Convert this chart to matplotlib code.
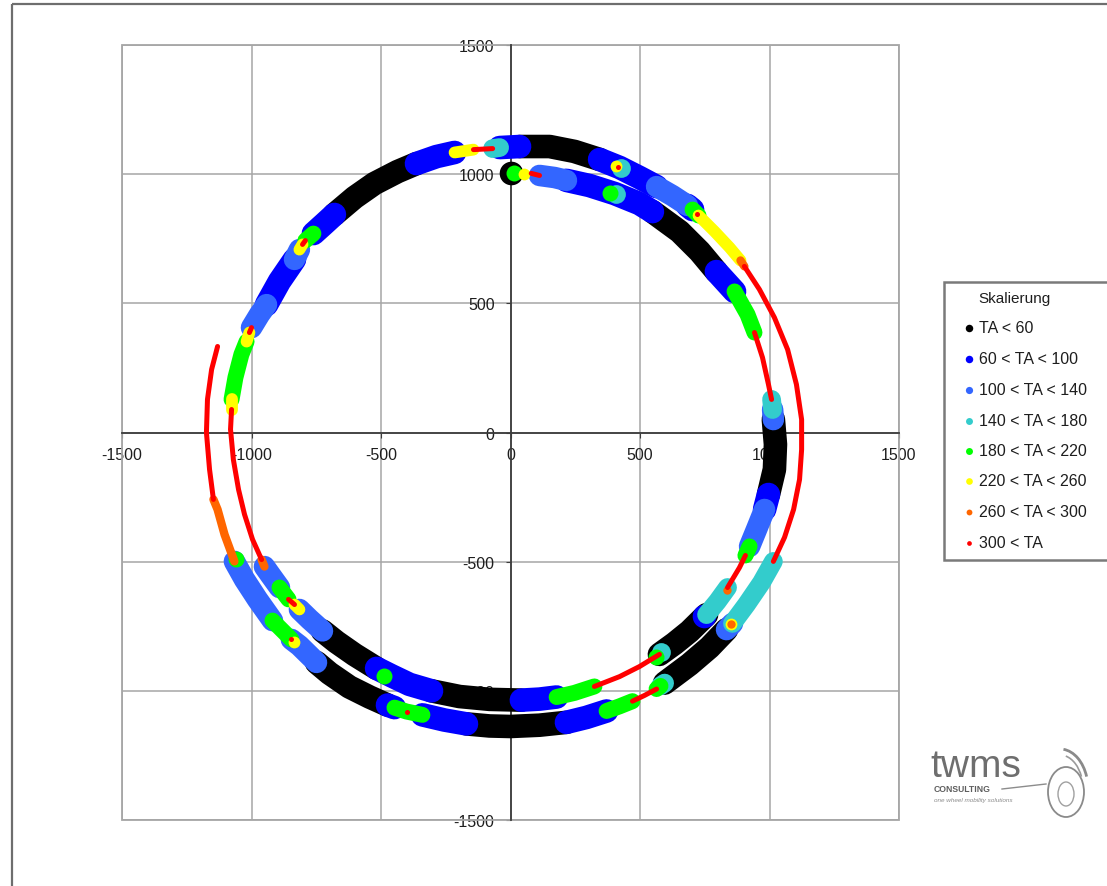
import matplotlib
matplotlib.use("Agg")
import matplotlib.pyplot as plt
from matplotlib.patches import Rectangle, Ellipse, Arc

plt.rcParams['font.family'] = ['Liberation Sans', 'DejaVu Sans']
plt.rcParams['axes.unicode_minus'] = False

# TA classes (legend "Skalierung")
ta_labels = ["TA < 60", "60 < TA < 100", "100 < TA < 140", "140 < TA < 180",
             "180 < TA < 220", "220 < TA < 260", "260 < TA < 300", "300 < TA"]
ta_colors = ["#000000", "#0000FF", "#3366FF", "#33CCCC",
             "#00FF00", "#FFFF00", "#FF6600", "#FF0000"]

# trajectory waypoints (clockwise, two laps)
path_x = [80, 112, 170, 216, 305, 402, 498, 548, 653, 730,
          795, 865, 915, 942, 973, 996, 1008, 1012, 1015, 1023,
          1019, 996, 981, 950, 923, 907, 884, 838, 799, 757,
          691, 633, 575, 498, 421, 324, 247, 178, 112, 42,
          -81, -197, -305, -390, -459, -517, -602, -672, -726, -776,
          -815, -834, -857, -892, -923, -950, -961, -996, -1027, -1050,
          -1070, -1081, -1077, -1077, -1062, -1039, -1019, -1008, -1000, -969,
          -942, -892, -834, -815, -803, -792, -761, -718, -680, -602,
          -525, -436, -363, -286, -216, -143, -69, -42, 35, 151,
          247, 344, 421, 498, 564, 625, 683, 703, 726, 788,
          846, 888, 903, 961, 1019, 1070, 1104, 1124, 1124, 1116,
          1093, 1058, 1015, 969, 911, 857, 834, 768, 691, 595,
          579, 564, 517, 471, 421, 371, 293, 216, 112, 0,
          -81, -170, -255, -340, -402, -448, -475, -544, -622, -699,
          -749, -815, -846, -919, -977, -1027, -1066, -1104, -1131, -1147,
          -1162, -1174, -1170, -1154, -1131]
path_y = [1003, 995, 987, 976, 956, 925, 886, 855, 778, 701,
          623, 546, 457, 387, 290, 186, 128, 89, 50, -46,
          -143, -240, -298, -375, -441, -476, -523, -600, -654, -705,
          -770, -817, -859, -906, -945, -983, -1008, -1024, -1032, -1036,
          -1033, -1022, -1000, -975, -942, -913, -860, -811, -768, -723,
          -685, -666, -646, -600, -557, -519, -492, -414, -317, -221,
          -105, 12, 89, 128, 213, 302, 352, 387, 406, 457,
          495, 585, 670, 708, 728, 743, 770, 809, 844, 910,
          964, 1010, 1041, 1068, 1084, 1095, 1099, 1103, 1107, 1107,
          1088, 1057, 1026, 987, 952, 917, 879, 863, 840, 778,
          716, 666, 643, 554, 445, 321, 186, 50, -66, -182,
          -298, -406, -499, -581, -666, -739, -763, -832, -898, -970,
          -981, -993, -1018, -1040, -1060, -1078, -1103, -1122, -1133, -1138,
          -1136, -1128, -1113, -1093, -1080, -1065, -1055, -1024, -985, -932,
          -890, -825, -801, -728, -646, -569, -499, -395, -298, -259,
          -143, 0, 128, 244, 333]
# TA class of the segment from waypoint i to i+1
seg_ta = [7, 2, 2, 1, 1, 1, 1, 0, 0, 0,
          1, 4, 4, 7, 7, 7, 3, 2, 0, 0,
          0, 1, 2, 2, 4, 7, 7, 3, 3, 0,
          0, 0, 7, 7, 7, 4, 4, 1, 1, 0,
          0, 0, 1, 1, 1, 0, 0, 0, 2, 2,
          5, 7, 4, 2, 2, 6, 7, 7, 7, 7,
          7, 7, 5, 4, 4, 4, 5, 7, 2, 2,
          1, 1, 2, 5, 7, 4, 1, 1, 0, 0,
          0, 0, 1, 1, 5, 7, 3, 1, 0, 0,
          0, 1, 1, 1, 2, 2, 1, 4, 5, 5,
          5, 6, 7, 7, 7, 7, 7, 7, 7, 7,
          7, 7, 3, 3, 3, 2, 0, 0, 0, 3,
          4, 7, 7, 4, 4, 1, 1, 0, 0, 0,
          0, 1, 1, 4, 4, 1, 0, 0, 0, 0,
          2, 2, 4, 2, 2, 2, 6, 6, 6, 7,
          7, 7, 7, 7]

# single spots along the path
dot_x = [0, 15, 52, 386, 409, 425, 409, 415, 722, 749, 583, 560, 834, 853, 853,
         -490, -401, -835, -846, -1058]
dot_y = [1003, 1003, 1000, 929, 925, 1022, 1030, 1026, 846, -710, -851, -868, -608, -743, -743,
         -941, -1080, -812, -801, -491]
dot_ta = [0, 4, 5, 4, 3, 3, 5, 7, 7, 1, 3, 4, 6, 5, 6,
          4, 7, 5, 7, 4]

ticks = [-1500, -1000, -500, 0, 500, 1000, 1500]

# marker sizes per class (points)
ta_width = [17.0, 17.0, 15.5, 13.5, 11.5, 8.5, 6.0, 3.6]
legend_ms = [5.4, 5.4, 5.2, 5.0, 5.0, 4.8, 4.2, 3.4]

grid_col = "#a6a6a6"
text_col = "#1e1e1e"

fig = plt.figure(figsize=(11.07, 8.87), dpi=100)
ax = fig.add_axes([122 / 1107, 1 - 821 / 887, 777 / 1107, 775 / 887])

ax.set_xlim(-1500, 1500)
ax.set_ylim(-1500, 1500)
ax.set_xticks(ticks)
ax.set_yticks(ticks)
ax.set_axisbelow(True)
ax.grid(True, color=grid_col, lw=1.1)

ax.spines['left'].set_position(('data', 0))
ax.spines['bottom'].set_position(('data', 0))
ax.spines['right'].set_visible(False)
ax.spines['top'].set_visible(False)
for s in ('left', 'bottom'):
    ax.spines[s].set_color("#3c3c3c")
    ax.spines[s].set_linewidth(1.3)
ax.add_patch(Rectangle((0, 0), 1, 1, transform=ax.transAxes, fill=False,
                       ec=grid_col, lw=1.3, clip_on=False, zorder=1))
ax.tick_params(axis='x', direction='out', length=3.5, pad=7, labelsize=11.5,
               labelcolor=text_col, color="#3c3c3c")
ax.tick_params(axis='y', direction='out', length=3.5, pad=8, labelsize=11.5,
               labelcolor=text_col, color="#3c3c3c")

# Excel draws the series in class order, so the hot classes end up on top
n = len(seg_ta)
for c in range(len(ta_labels)):
    i = 0
    while i < n:
        if seg_ta[i] != c:
            i += 1
            continue
        j = i
        while j + 1 < n and seg_ta[j + 1] == c:
            j += 1
        ax.plot(path_x[i:j + 2], path_y[i:j + 2], color=ta_colors[c], lw=ta_width[c],
                solid_capstyle='round', solid_joinstyle='round', zorder=3 + c * 0.1)
        i = j + 1
    dx = [x for x, t in zip(dot_x, dot_ta) if t == c]
    dy = [y for y, t in zip(dot_y, dot_ta) if t == c]
    if dx:
        ax.plot(dx, dy, 'o', ms=ta_width[c], mec='none', color=ta_colors[c],
                zorder=3.05 + c * 0.1)

# overlay in pixel units for frame, legend and logo
ov = fig.add_axes([0, 0, 1, 1])
ov.set_xlim(0, 1107)
ov.set_ylim(887, 0)
ov.axis('off')

ov.add_patch(Rectangle((12, 5), 1120, 900, fill=False, ec="#6e6e6e", lw=1.6, clip_on=False))

# legend
ov.add_patch(Rectangle((944, 283), 200, 278, fc='white', ec="#7a7a7a", lw=1.8, clip_on=False))
ov.text(978, 299, "Skalierung", fontsize=11, color=text_col, va='center', ha='left')
leg_y = [329, 360, 391, 422, 452, 482, 513, 544]
for k, lab in enumerate(ta_labels):
    ov.plot(969, leg_y[k], 'o', ms=legend_ms[k], mec='none', color=ta_colors[k])
    ov.text(979, leg_y[k], lab, fontsize=11.5, color=text_col, va='center', ha='left')

# twms logo
logo_col = "#6e6e6e"
ov.text(930, 777, "twms", fontsize=28, color=logo_col, family=['Liberation Sans', 'DejaVu Sans'],
        va='baseline', ha='left')
ov.text(934, 792, "CONSULTING", fontsize=6.2, color="#5e5e5e", weight='bold',
        va='baseline', ha='left')
ov.text(934, 802, "one wheel mobility solutions", fontsize=4.6, color="#8c8c8c",
        style='italic', va='baseline', ha='left')
ov.plot([1002, 1046], [790, 785], color="#8c8c8c", lw=1.0)
ov.add_patch(Ellipse((1066, 793), 36, 50, fill=False, ec="#8a8a8a", lw=1.3))
ov.add_patch(Ellipse((1066, 795), 16, 24, fill=False, ec="#a0a0a0", lw=1.0))
ov.add_patch(Arc((1060, 790), 56, 80, theta1=-85, theta2=-25, ec="#8a8a8a", lw=2.0))
ov.add_patch(Arc((1060, 790), 46, 68, theta1=-80, theta2=-30, ec="#9a9a9a", lw=1.2))

fig.savefig("out.png", dpi=100)
